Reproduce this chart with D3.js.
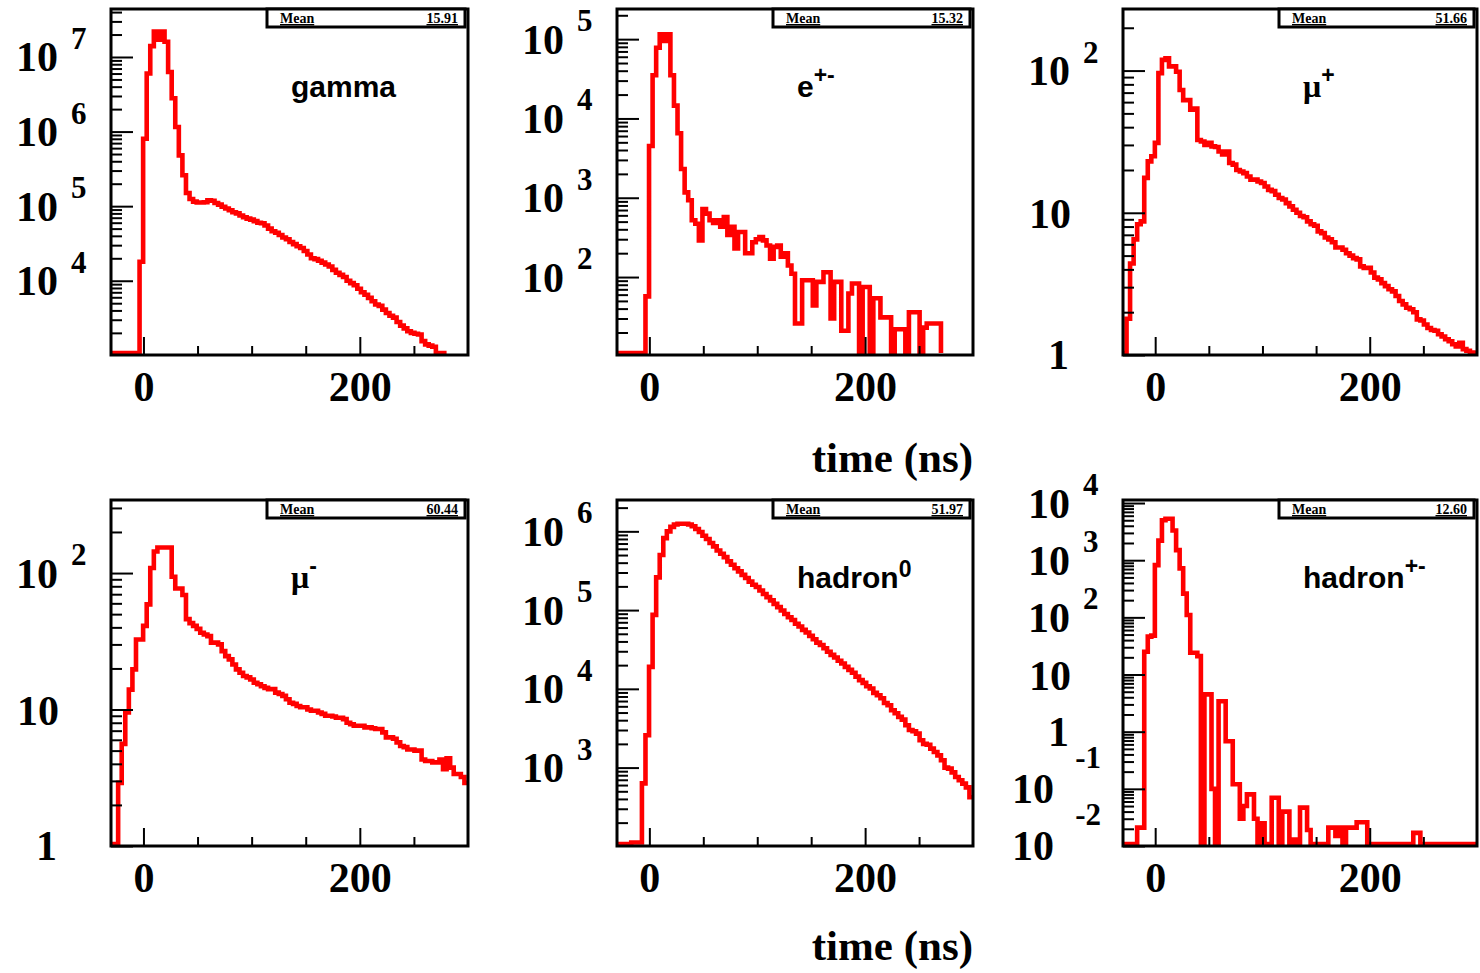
<!DOCTYPE html>
<html lang="en">
<head>
    <meta charset="UTF-8">
    <title>Arrival time of shower particles</title>
    <script src="https://d3js.org/d3.v7.min.js"></script>
    <style>
        body { margin: 0; background: #fff; }
        svg { display: block; }
        .num { font-family: "Liberation Serif", "Times New Roman", serif; font-weight: bold; fill: #000; }
        .name { font-family: "Liberation Sans", Arial, sans-serif; font-weight: bold; fill: #000; font-size: 30px; }
        .greek { font-family: "Liberation Serif", "Times New Roman", serif; font-weight: bold; font-size: 32px; }
        .stat { font-family: "Liberation Serif", "Times New Roman", serif; font-weight: bold; font-size: 14px; text-decoration: underline; }
    </style>
</head>
<body>
<svg id="chart" width="1480" height="973"></svg>
<script>
    // histogram binning (ns)
    const timeRange = [-30, 300];
    const binCount = 100;
    const xMajorTicks = [0, 200];
    const xMinorTicks = [50, 100, 150, 250];

    // bin contents, null = bin not drawn
    const gammaCounts = [0, 0, 0, 0, 0, 0, 0, 0, 1.8e4, 8e5,
        6e6, 1.4e7, 2.2e7, 1.7e7, 2.2e7, 1.6e7, 6.3e6, 2.8e6, 1.15e6, 4.8e5,
        2.6e5, 1.5e5, 1.25e5, 1.15e5, 1.12e5, 1.12e5, 1.13e5, 1.2e5, 1.18e5, 1.1e5,
        1.05e5, 9.8e4, 9.3e4, 8.8e4, 8.3e4, 8.0e4, 7.5e4, 7.1e4, 6.8e4, 6.6e4,
        6.3e4, 6.0e4, 5.9e4, 5.5e4, 5.0e4, 4.6e4, 4.4e4, 4.1e4, 3.8e4, 3.6e4,
        3.3e4, 3.1e4, 2.9e4, 2.75e4, 2.5e4, 2.25e4, 2.0e4, 1.95e4, 1.85e4, 1.75e4,
        1.65e4, 1.55e4, 1.4e4, 1.28e4, 1.2e4, 1.12e4, 1.0e4, 9.3e3, 8.7e3, 7.8e3,
        7.0e3, 6.5e3, 5.9e3, 5.3e3, 4.8e3, 4.6e3, 4.1e3, 3.7e3, 3.4e3, 3.2e3,
        2.8e3, 2.5e3, 2.3e3, 2.1e3, 2.0e3, 1.95e3, 1.9e3, 1.55e3, 1.4e3, 1.35e3,
        1.3e3, 1.05e3, 1.0e3, 960, null, null, null, null, null, null];

    const electronCounts = [0, 0, 0, 0, 0, 0, 0, 0, 57, 4.5e3,
        3.5e4, 7.8e4, 1.15e5, 9.5e4, 1.15e5, 3.5e4, 1.45e4, 6.5e3, 2.3e3, 1.17e3,
        930, 520, 470, 290, 720, 630, 520, 480, 520, 430,
        570, 340, 430, 230, 370, 370, 200, 200, 275, 300,
        320, 290, 250, 170, 240, 250, 180, 200, 140, 110,
        26, 26, 91, 91, 91, 44, 87, 87, 115, 115,
        30, 87, 87, 21, 21, 62, 83, 83, 0, 75,
        75, 0, 54, 54, 31, 31, 31, 0, 22, 22,
        22, 0, 36, 36, 36, 0, 23, 26, 26, 26,
        26, null, null, null, null, null, null, null, null, null];

    const muPlusCounts = [0, 1.8, 4.4, 6.5, 8.3, 8.7, 17.6, 23, 25, 31,
        96, 119, 122, 107, 107, 98, 73, 62, 62, 53,
        54, 32.5, 31.7, 30, 31, 29.3, 29, 27, 25.7, 27,
        22.4, 21.8, 20, 19.5, 19, 18, 17.1, 17.1, 16.6, 16.2,
        15.3, 14.5, 14.2, 13.4, 12.7, 12.4, 11.7, 11.1, 10.5, 10,
        9.5, 9.3, 8.7, 8.3, 8.1, 7.4, 7.2, 6.7, 6.5, 6.2,
        5.7, 5.7, 5.5, 5.2, 5.0, 4.8, 4.7, 4.2, 4.1, 4.1,
        3.8, 3.5, 3.4, 3.2, 3.05, 2.9, 2.8, 2.6, 2.4, 2.27,
        2.15, 2.1, 2.0, 1.78, 1.75, 1.64, 1.55, 1.5, 1.48, 1.4,
        1.35, 1.29, 1.25, 1.19, 1.15, 1.22, 1.1, 1.07, 1.04, 1.0];

    const muMinusCounts = [0, 0, 2.9, 5.6, 9.5, 14, 19.7, 32.6, 32.6, 41,
        59, 109, 144, 154, 154, 154, 154, 94, 77, 77,
        69, 46, 43, 41, 39, 36.5, 35.5, 34.5, 30.9, 30.9,
        30, 26.8, 24.6, 23.3, 21.4, 19.7, 18.6, 17.6, 17.2, 16.6,
        15.7, 15.3, 14.8, 14.4, 14.1, 14.1, 13.3, 13, 12.6, 11.9,
        11.2, 11, 10.6, 10.4, 10.4, 10, 9.8, 9.8, 9.5, 9.3,
        9.0, 9.0, 8.9, 8.7, 8.7, 8.5, 8.0, 7.8, 7.6, 7.6,
        7.6, 7.4, 7.4, 7.3, 7.2, 7.2, 6.8, 6.25, 6.25, 6.1,
        5.75, 5.4, 5.3, 5.1, 5.1, 5.0, 5.0, 4.3, 4.2, 4.2,
        4.1, 4.1, 4.3, 3.66, 4.4, 3.75, 3.37, 3.37, 3.2, 2.9];

    const hadron0Counts = [0, 0, 0, 0, 112, 112, 112, 630, 2.57e3, 1.9e4,
        8.7e4, 2.6e5, 5.0e5, 8.2e5, 1.0e6, 1.14e6, 1.22e6, 1.25e6, 1.25e6, 1.25e6,
        1.22e6, 1.16e6, 1.07e6, 9.8e5, 8.8e5, 8.0e5, 7.1e5, 6.45e5, 5.7e5, 5.2e5,
        4.7e5, 4.15e5, 3.77e5, 3.4e5, 3.1e5, 2.8e5, 2.56e5, 2.3e5, 2.1e5, 1.96e5,
        1.77e5, 1.6e5, 1.46e5, 1.33e5, 1.2e5, 1.09e5, 9.9e4, 8.9e4, 8.1e4, 7.5e4,
        6.7e4, 6.2e4, 5.6e4, 5.2e4, 4.7e4, 4.27e4, 3.86e4, 3.6e4, 3.27e4, 2.96e4,
        2.7e4, 2.5e4, 2.27e4, 2.1e4, 1.9e4, 1.74e4, 1.6e4, 1.43e4, 1.29e4, 1.19e4,
        1.08e4, 1.01e4, 8.9e3, 8.3e3, 7.6e3, 6.6e3, 6.2e3, 5.35e3, 4.9e3, 4.4e3,
        4.07e3, 3.45e3, 3.0e3, 2.9e3, 2.7e3, 2.22e3, 2.0e3, 1.95e3, 1.74e3, 1.58e3,
        1.43e3, 1.24e3, 1.0e3, 970, 870, 760, 690, 625, 560, 420];

    const hadronChCounts = [0, 0, 0, 0, 0.021, 0.021, 25, 46, 48, 820,
        2200, 5000, 5300, 5300, 3300, 1500, 720, 260, 110, 24,
        24, 21, 0, 4.5, 4.5, 0.1, 0, 3.4, 3.4, 0.68,
        0.68, 0.12, 0.12, 0.03, 0.05, 0.08, 0.08, 0.03, 0, 0.025,
        0, 0, 0.07, 0.07, 0, 0.04, 0.04, 0, 0.013, 0,
        0.047, 0.047, 0.019, 0, 0, 0, 0, 0, 0.021, 0.021,
        0.015, 0.021, 0, 0.021, 0.021, 0.021, 0.026, 0.026, 0.026, 0,
        0, 0, 0, 0, 0, 0, 0, 0, 0, 0,
        0, 0, 0.017, 0.017, 0, 0, 0, 0, 0, 0,
        0, 0, 0, 0, 0, 0, 0, 0, 0, 0];

    const labelBase = ["gamma", "e", "\u03bc", "\u03bc", "hadron", "hadron"];
    const labelSup = ["", "+-", "+", "-", "0", "+-"];
    const meanValues = ["15.91", "15.32", "51.66", "60.44", "51.97", "12.60"];
    const yDomains = [[1010, 4.4e7], [10.4, 2.4e5], [1, 271], [1, 343], [101, 2.5e6], [0.01, 1.13e4]];

    const series = [gammaCounts, electronCounts, muPlusCounts, muMinusCounts, hadron0Counts, hadronChCounts];

    // page layout
    const colLeft = [111, 617, 1123];
    const colWidth = [357, 356, 354];
    const rowTop = [9, 500];
    const panelH = 346;

    const svg = d3.select("#chart");

    function decadeLabel(g, yPos, e) {
        if (e === 0) {
            g.append("text").attr("class", "num").attr("font-size", 42).attr("text-anchor", "end")
                .attr("x", -54).attr("y", yPos + 14).text("1");
        } else if (e === 1) {
            g.append("text").attr("class", "num").attr("font-size", 42).attr("text-anchor", "end")
                .attr("x", -52).attr("y", yPos + 15).text("10");
        } else if (e > 1) {
            g.append("text").attr("class", "num").attr("font-size", 42).attr("text-anchor", "end")
                .attr("x", -53).attr("y", yPos + 14.5).text("10");
            g.append("text").attr("class", "num").attr("font-size", 31)
                .attr("x", -40).attr("y", yPos - 8).text(e);
        } else {
            g.append("text").attr("class", "num").attr("font-size", 42).attr("text-anchor", "end")
                .attr("x", -69).attr("y", yPos + 14).text("10");
            g.append("text").attr("class", "num").attr("font-size", 31).attr("text-anchor", "end")
                .attr("x", -22).attr("y", yPos - 21).text("-" + Math.abs(e));
        }
    }

    function drawPanel(i, counts) {
        const col = i % 3, row = Math.floor(i / 3);
        const w = colWidth[col];
        const dom = yDomains[i];
        const g = svg.append("g").attr("transform", "translate(" + colLeft[col] + "," + rowTop[row] + ")");

        const x = d3.scaleLinear().domain(timeRange).range([0, w]);
        const y = d3.scaleLog().domain(dom).range([panelH, 0]);
        const floorY = panelH - 2;
        const yv = function(c) { return c > dom[0] ? Math.max(y(c), 0) : floorY; };
        const step = (timeRange[1] - timeRange[0]) / binCount;

        // step outline of the histogram
        const pts = [];
        let last = -1;
        counts.forEach(function(c, k) {
            if (c !== null) { pts.push([timeRange[0] + k * step, c]); last = k; }
        });
        pts.push([timeRange[0] + (last + 1) * step, counts[last]]);
        if (last < binCount - 1) pts.push([timeRange[0] + (last + 1) * step, 0]);

        const line = d3.line()
            .x(function(d) { return x(d[0]); })
            .y(function(d) { return yv(d[1]); })
            .curve(d3.curveStepAfter);

        g.append("path").attr("d", line(pts))
            .attr("fill", "none").attr("stroke", "#ff0000")
            .attr("stroke-width", 4.6).attr("stroke-linejoin", "miter");

        // log axis ticks
        const eMin = Math.ceil(Math.log10(dom[0]) - 1e-9), eMax = Math.floor(Math.log10(dom[1]));
        const major = d3.range(eMin, eMax + 1).map(function(e) { return Math.pow(10, e); });
        const minor = [];
        for (let e = eMin - 1; e <= eMax; e++) {
            for (let m = 2; m <= 9; m++) {
                const v = m * Math.pow(10, e);
                if (v > dom[0] && v < dom[1]) minor.push(v);
            }
        }

        const tickStyle = function(a) {
            a.select(".domain").remove();
            a.selectAll(".tick line").attr("stroke", "#000").attr("stroke-width", 2);
        };

        g.append("g").call(d3.axisLeft(y).tickValues(minor).tickSize(-11).tickFormat("")).call(tickStyle);
        g.append("g").call(d3.axisLeft(y).tickValues(major).tickSize(-22).tickFormat("")).call(tickStyle);

        d3.range(eMin, eMax + 1).forEach(function(e) {
            decadeLabel(g, y(Math.pow(10, e)), e);
        });

        // time axis
        g.append("g").attr("transform", "translate(0," + panelH + ")")
            .call(d3.axisBottom(x).tickValues(xMinorTicks).tickSize(-9).tickFormat(""))
            .call(tickStyle);
        const xa = g.append("g").attr("transform", "translate(0," + panelH + ")")
            .call(d3.axisBottom(x).tickValues(xMajorTicks).tickSize(-18).tickPadding(16).tickFormat(d3.format("d")))
            .call(tickStyle);
        xa.attr("font-size", null).attr("font-family", null);
        xa.selectAll("text").attr("class", "num").attr("font-size", 42).attr("fill", "#000");

        // frame
        g.append("rect").attr("x", 0).attr("y", 0).attr("width", w).attr("height", panelH)
            .attr("fill", "none").attr("stroke", "#000").attr("stroke-width", 3);

        // stats box
        g.append("rect").attr("x", 156).attr("y", 0).attr("width", w - 159).attr("height", 18)
            .attr("fill", "#fff").attr("stroke", "#000").attr("stroke-width", 3);
        g.append("text").attr("class", "stat").attr("x", 169).attr("y", 14).text("Mean");
        g.append("text").attr("class", "stat").attr("text-anchor", "end")
            .attr("x", w - 10).attr("y", 14).text(meanValues[i]);

        // particle name
        const t = g.append("text").attr("class", "name").attr("x", 180).attr("y", 88);
        t.append("tspan").attr("class", labelBase[i] === "\u03bc" ? "greek" : null).text(labelBase[i]);
        if (labelSup[i]) {
            t.append("tspan").attr("font-size", 23).attr("dy", labelSup[i] === "0" ? -11 : -14)
                .text(labelSup[i]);
        }
    }

    series.forEach(function(counts, i) { drawPanel(i, counts); });

    // shared axis titles
    [472, 960].forEach(function(yPos) {
        svg.append("text").attr("class", "num").attr("font-size", 43).attr("text-anchor", "end")
            .attr("x", 973).attr("y", yPos).text("time (ns)");
    });
</script>
</body>
</html>
